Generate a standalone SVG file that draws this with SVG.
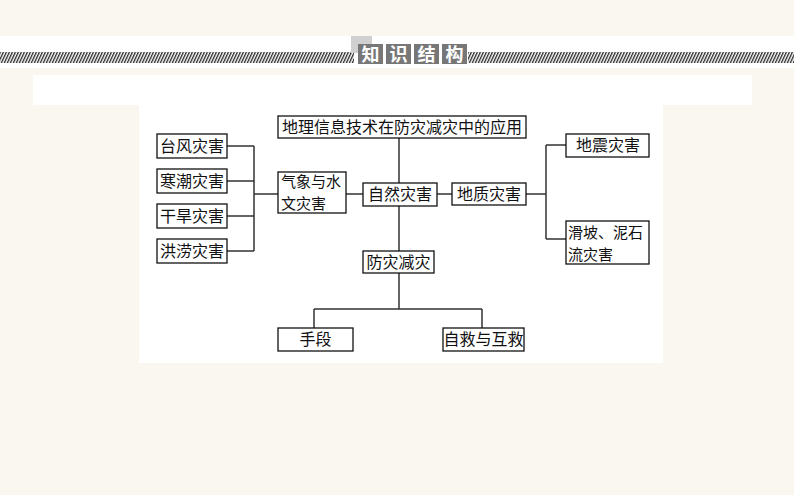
<svg xmlns="http://www.w3.org/2000/svg" width="794" height="495" viewBox="0 0 794 495">
<defs>
<pattern id="hatch" width="3" height="11" patternUnits="userSpaceOnUse" patternTransform="skewX(-25)">
<rect width="3" height="11" fill="#fff"/>
<rect width="1.4" height="11" fill="#222"/>
</pattern>
<style>
.box{fill:#fff;stroke:#111;stroke-width:1.3}
.t{font-family:"Noto Sans CJK SC","Noto Sans CJK JP",sans-serif;font-size:16px;fill:#111}
.t2{font-family:"Noto Sans CJK SC","Noto Sans CJK JP",sans-serif;font-size:15px;fill:#111}
.c{text-anchor:middle}
.ln{fill:none;stroke:#333;stroke-width:1.5}
.tile{fill:#777}
.tt{font-family:"Noto Sans CJK SC",sans-serif;font-size:18px;font-weight:bold;fill:#fff;text-anchor:middle}
</style>
</defs>
<rect width="794" height="495" fill="#f9f7ef"/>
<rect x="0" y="36" width="794" height="32" fill="#fff"/>
<rect x="0" y="52" width="354" height="11" fill="url(#hatch)"/>
<rect x="468" y="52" width="326" height="11" fill="url(#hatch)"/>
<g id="title">
<rect x="351" y="36" width="21" height="17" fill="#d0d0d0"/>
<rect class="tile" x="358" y="44" width="25" height="20"/>
<rect class="tile" x="386" y="44" width="25" height="20"/>
<rect class="tile" x="414" y="44" width="25" height="20"/>
<rect class="tile" x="442" y="44" width="25" height="20"/>
<text class="tt" x="370.5" y="60.5">知</text>
<text class="tt" x="398.5" y="60.5">识</text>
<text class="tt" x="426.5" y="60.5">结</text>
<text class="tt" x="454.5" y="60.5">构</text>
</g>
<rect x="33" y="75" width="719" height="30" fill="#fff"/>
<rect x="139" y="104" width="524" height="259" fill="#fff"/>
<g id="connectors">
<path class="ln" d="M227 146H254M227 181H254M227 216H254M227 251H254M254 146V251M254 194H278"/>
<path class="ln" d="M346 194H363M437 194H452M526 194H546M546 145V239M546 145H566M546 239H566"/>
<path class="ln" d="M399 138V183M399 206V251M399 273V309M314 309H482M314 309V328M482 309V328"/>
</g>
<g id="n-app"><rect class="box" x="278" y="116" width="248" height="22"/><text class="t c" x="402" y="133">地理信息技术在防灾减灾中的应用</text></g>
<g id="n-taifeng"><rect class="box" x="157" y="134" width="70" height="24"/><text class="t c" x="192" y="151.5">台风灾害</text></g>
<g id="n-hanchao"><rect class="box" x="157" y="169" width="70" height="24"/><text class="t c" x="192" y="186.5">寒潮灾害</text></g>
<g id="n-ganhan"><rect class="box" x="157" y="204" width="70" height="24"/><text class="t c" x="192" y="221.5">干旱灾害</text></g>
<g id="n-honglao"><rect class="box" x="157" y="239" width="70" height="24"/><text class="t c" x="192" y="256.5">洪涝灾害</text></g>
<g id="n-qixiang"><rect class="box" x="278" y="172" width="68" height="41"/><text class="t2" x="281" y="187">气象与水</text><text class="t2" x="281" y="209">文灾害</text></g>
<g id="n-ziran"><rect class="box" x="363" y="183" width="74" height="23"/><text class="t c" x="400" y="200">自然灾害</text></g>
<g id="n-dizhi"><rect class="box" x="452" y="183" width="74" height="22"/><text class="t c" x="489" y="199.5">地质灾害</text></g>
<g id="n-dizhen"><rect class="box" x="566" y="134" width="83" height="23"/><text class="t c" x="608" y="151">地震灾害</text></g>
<g id="n-huapo"><rect class="box" x="566" y="221" width="83" height="43"/><text class="t2" x="568" y="238">滑坡、泥石</text><text class="t2" x="568" y="260">流灾害</text></g>
<g id="n-fangzai"><rect class="box" x="363" y="251" width="71" height="22"/><text class="t c" x="398.5" y="267.5">防灾减灾</text></g>
<g id="n-shouduan"><rect class="box" x="278" y="328" width="75" height="23"/><text class="t c" x="315.5" y="345">手段</text></g>
<g id="n-zijiu"><rect class="box" x="443" y="328" width="81" height="23"/><text class="t c" x="483.5" y="345">自救与互救</text></g>
</svg>
